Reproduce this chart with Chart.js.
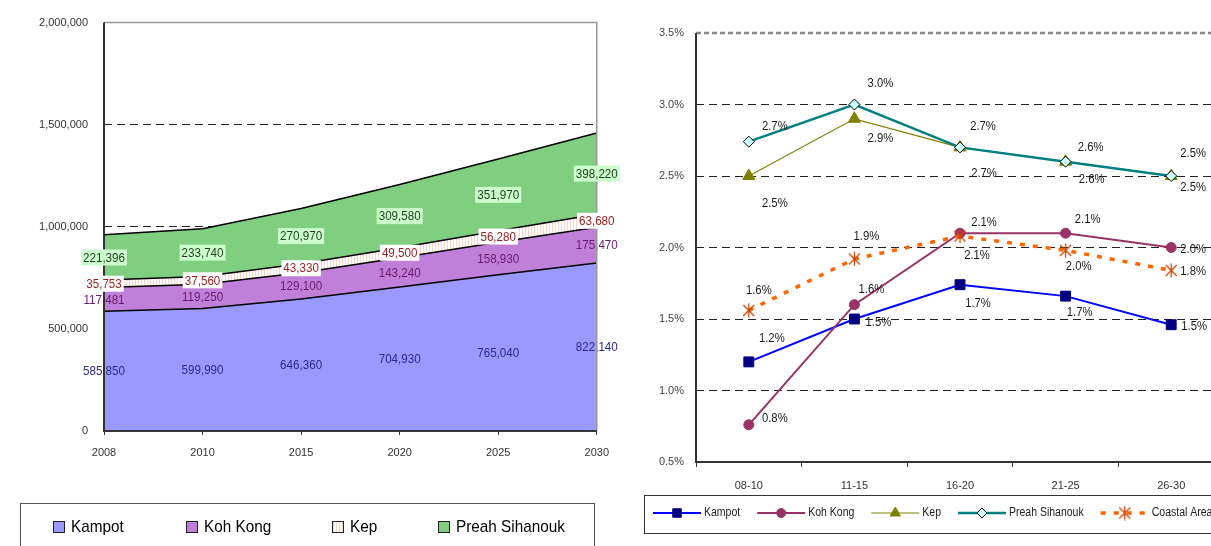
<!DOCTYPE html>
<html>
<head>
<meta charset="utf-8">
<script src="https://cdn.jsdelivr.net/npm/chart.js@4.4.1/dist/chart.umd.min.js"></script>
<style>
  html, body { margin: 0; padding: 0; background: #fff; overflow: hidden; width: 1211px; height: 546px; }
  #popChart { position: absolute; left: 0; top: 0; }
  #rateChart { position: absolute; left: 620px; top: 0; }
</style>
</head>
<body>
<canvas id="popChart" width="620" height="546"></canvas>
<canvas id="rateChart" width="620" height="546"></canvas>
<script>
// ---- Population by province (stacked) ----
const years = ['2008', '2010', '2015', '2020', '2025', '2030'];
const kampot = [585850, 599990, 646360, 704930, 765040, 822140];
const kohKong = [117481, 119250, 129100, 143240, 158930, 175470];
const kep = [35753, 37560, 43330, 49500, 56280, 63680];
const preahSihanouk = [221396, 233740, 270970, 309580, 351970, 398220];

// ---- Annual growth rate (%) by period ----
const periods = ['08-10', '11-15', '16-20', '21-25', '26-30'];
const rateKampot = [1.2, 1.5, 1.74, 1.66, 1.46];
const rateKohKong = [0.76, 1.6, 2.1, 2.1, 2.0];
const rateKep = [2.5, 2.9, 2.7, 2.6, 2.5];
const ratePreahSihanouk = [2.74, 3.0, 2.7, 2.6, 2.5];
const rateCoastal = [1.56, 1.92, 2.08, 1.98, 1.84];

const SANS = '"Liberation Sans", Arial, sans-serif';

// condensed text: regular face squeezed horizontally
function squeezedText(ctx, txt, x, y, sx) {
  ctx.save();
  ctx.translate(x, y);
  ctx.scale(sx, 1);
  ctx.fillText(txt, 0, 0);
  ctx.restore();
}

// light peach hatching used for the Kep band
function stripes(ctx) {
  const c = document.createElement('canvas');
  c.width = 3; c.height = 4;
  const g = c.getContext('2d');
  g.fillStyle = '#ffffff'; g.fillRect(0, 0, 3, 4);
  g.fillStyle = '#fbd6c4'; g.fillRect(0, 0, 1, 4);
  return ctx.createPattern(c, 'repeat');
}

// six-armed asterisk marker
function asterisk(color) {
  const s = 15, c = document.createElement('canvas');
  c.width = s; c.height = s;
  const g = c.getContext('2d');
  g.strokeStyle = color; g.lineWidth = 1.3;
  g.beginPath();
  g.moveTo(2, 2); g.lineTo(13, 13);
  g.moveTo(13, 2); g.lineTo(2, 13);
  g.moveTo(7.5, 0.5); g.lineTo(7.5, 14.5);
  g.stroke();
  return c;
}

/* ================= Left: stacked population areas ================= */
const popCanvas = document.getElementById('popChart');
const popCtx = popCanvas.getContext('2d');
const kepFill = stripes(popCtx);

const bandLabels = {
  id: 'bandLabels',
  afterDatasetsDraw(chart) {
    const ctx = chart.ctx, a = chart.chartArea;
    const metas = chart.data.datasets.map((d, i) => chart.getDatasetMeta(i));
    const SX = 0.86;
    ctx.save();
    ctx.textAlign = 'center';
    ctx.textBaseline = 'middle';
    ctx.font = '13.5px ' + SANS;
    const draw = (boxed) => {
      chart.data.datasets.forEach((ds, k) => {
        if (!!ds.labelBox !== boxed) return;
        metas[k].data.forEach((pt, i) => {
          const top = pt.y;
          const bot = k === 0 ? a.bottom : metas[k - 1].data[i].y;
          const y = (top + bot) / 2;
          const txt = ds.data[i].toLocaleString('en-US');
          const w = ctx.measureText(txt).width * SX;
          if (boxed) {
            ctx.fillStyle = ds.labelBox;
            ctx.fillRect(pt.x - w / 2 - 2, y - 8, w + 4, 16);
          }
          ctx.fillStyle = ds.labelColor;
          squeezedText(ctx, txt, pt.x, y + 0.5, SX);
        });
      });
    };
    draw(false);
    // plot frame
    ctx.lineWidth = 1.5;
    ctx.strokeStyle = '#999';
    ctx.beginPath();
    ctx.moveTo(a.left, a.top); ctx.lineTo(a.right, a.top); ctx.lineTo(a.right, a.bottom);
    ctx.stroke();
    ctx.lineWidth = 2;
    ctx.strokeStyle = '#333';
    ctx.beginPath();
    ctx.moveTo(a.left, a.top); ctx.lineTo(a.left, a.bottom); ctx.lineTo(a.right, a.bottom);
    ctx.stroke();
    draw(true);
    ctx.restore();
  },
  afterDraw(chart) {
    const ctx = chart.ctx;
    ctx.save();
    ctx.strokeStyle = '#555';
    ctx.lineWidth = 1;
    ctx.strokeRect(20.5, 503.5, 574, 60);
    const xs = [53, 186, 332, 438];
    ctx.font = '17px ' + SANS;
    ctx.textBaseline = 'middle';
    chart.data.datasets.forEach((ds, i) => {
      ctx.fillStyle = ds.backgroundColor;
      ctx.fillRect(xs[i] + 0.5, 521.5, 11, 11);
      ctx.strokeStyle = '#222';
      ctx.strokeRect(xs[i] + 0.5, 521.5, 11, 11);
      ctx.fillStyle = '#000';
      squeezedText(ctx, ds.label, xs[i] + 18, 527, 0.9);
    });
    ctx.restore();
  }
};

new Chart(popCtx, {
  type: 'line',
  data: {
    labels: years,
    datasets: [
      { label: 'Kampot', data: kampot, backgroundColor: '#9999ff', fill: 'origin', labelColor: '#2b2b8c' },
      { label: 'Koh Kong', data: kohKong, backgroundColor: '#c07fd8', fill: '-1', labelColor: '#6b1a6b' },
      { label: 'Kep', data: kep, backgroundColor: kepFill, fill: '-1', labelColor: '#9b1c1c', labelBox: '#ffffff' },
      { label: 'Preah Sihanouk', data: preahSihanouk, backgroundColor: '#80cf80', fill: '-1', labelColor: '#1e3d1e', labelBox: '#ccffcc' }
    ].map(d => Object.assign({ borderColor: '#000', borderWidth: 1.5, pointRadius: 0, tension: 0 }, d))
  },
  options: {
    responsive: false,
    animation: false,
    layout: { padding: { top: 22, right: 23, left: 0, bottom: 0 } },
    plugins: { legend: { display: false }, tooltip: { enabled: false } },
    scales: {
      x: {
        offset: false,
        grid: { drawOnChartArea: false, tickLength: 4, color: '#333' },
        border: { display: false },
        ticks: { font: { family: SANS, size: 11 }, color: '#333', padding: 11, maxRotation: 0 },
        afterFit(s) { s.height = 115; }
      },
      y: {
        stacked: true,
        min: 0, max: 2000000,
        grid: {
          drawTicks: false,
          color: c => (c.tick && (c.tick.value === 1000000 || c.tick.value === 1500000)) ? '#222' : 'rgba(0,0,0,0)'
        },
        border: { display: false, dash: [8, 5] },
        ticks: { stepSize: 500000, font: { family: SANS, size: 11 }, color: '#333', padding: 16,
                 callback: v => v.toLocaleString('en-US') },
        afterFit(s) { s.width = 104; }
      }
    }
  },
  plugins: [bandLabels]
});

/* ================= Right: growth rate lines ================= */
const rateCanvas = document.getElementById('rateChart');
const starMark = asterisk('#cc4400');

const rateDecor = {
  id: 'rateDecor',
  beforeDatasetsDraw(chart) {
    const ctx = chart.ctx, a = chart.chartArea;
    ctx.save();
    ctx.strokeStyle = '#888';
    ctx.lineWidth = 2.5;
    ctx.setLineDash([5, 3]);
    ctx.beginPath(); ctx.moveTo(a.left, a.top); ctx.lineTo(a.right, a.top); ctx.stroke();
    ctx.setLineDash([]);
    ctx.strokeStyle = '#333';
    ctx.lineWidth = 2;
    ctx.beginPath();
    ctx.moveTo(a.left, a.top); ctx.lineTo(a.left, a.bottom); ctx.lineTo(a.right, a.bottom);
    ctx.stroke();
    ctx.restore();
  },
  afterDatasetsDraw(chart) {
    const ctx = chart.ctx;
    ctx.save();
    ctx.font = '12px ' + SANS;
    ctx.fillStyle = '#1a1a1a';
    ctx.textAlign = 'center';
    ctx.textBaseline = 'middle';
    chart.data.datasets.forEach((ds, k) => {
      chart.getDatasetMeta(k).data.forEach((pt, i) => {
        const off = ds.labelOffsets[i];
        squeezedText(ctx, ds.data[i].toFixed(1) + '%', pt.x + off[0], pt.y + off[1], 0.94);
      });
    });
    ctx.restore();
  },
  afterDraw(chart) {
    const ctx = chart.ctx;
    const H = Chart.helpers;
    const SX = 0.84;
    ctx.save();
    ctx.strokeStyle = '#333';
    ctx.lineWidth = 1;
    ctx.strokeRect(24.5, 495.5, 700, 38);
    ctx.font = '12.5px ' + SANS;
    ctx.textBaseline = 'middle';
    let x = 33;
    const y = 513;
    chart.data.datasets.forEach((ds) => {
      ctx.save();
      ctx.strokeStyle = ds.borderColor;
      ctx.lineWidth = ds.borderWidth;
      ctx.setLineDash(ds.borderDash || []);
      ctx.beginPath(); ctx.moveTo(x, y); ctx.lineTo(x + 48, y); ctx.stroke();
      ctx.setLineDash([]);
      ctx.fillStyle = ds.pointBackgroundColor;
      ctx.strokeStyle = ds.pointBorderColor;
      ctx.lineWidth = ds.pointBorderWidth || 1;
      H.drawPoint(ctx, { pointStyle: ds.pointStyle, radius: ds.legendRadius, rotation: 0, borderWidth: ds.pointBorderWidth || 1 }, x + 24, y);
      ctx.restore();
      ctx.fillStyle = '#222';
      squeezedText(ctx, ds.label, x + 51, y, SX);
      x += 51 + ctx.measureText(ds.label).width * SX + 17;
    });
    ctx.restore();
  }
};

new Chart(rateCanvas.getContext('2d'), {
  type: 'line',
  data: {
    labels: periods,
    datasets: [
      { label: 'Kampot', data: rateKampot, borderColor: '#0000ff', borderWidth: 2,
        pointStyle: 'rect', pointRadius: 7, legendRadius: 6, pointBackgroundColor: '#000080', pointBorderColor: '#000080',
        labelOffsets: [[23, -23], [24, 4], [18, 19], [14, 17], [23, 2]] },
      { label: 'Koh Kong', data: rateKohKong, borderColor: '#993366', borderWidth: 2,
        pointStyle: 'circle', pointRadius: 5, legendRadius: 4.5, pointBackgroundColor: '#993366', pointBorderColor: '#993366',
        labelOffsets: [[26, -6], [17, -15], [24, -11], [22, -14], [22, 2]] },
      { label: 'Kep', data: rateKep, borderColor: '#808000', borderWidth: 1.2,
        pointStyle: 'triangle', pointRadius: 7, legendRadius: 6, pointBackgroundColor: '#808000', pointBorderColor: '#808000',
        labelOffsets: [[26, 28], [26, 20], [24, 26], [26, 18], [22, 12]] },
      { label: 'Preah Sihanouk', data: ratePreahSihanouk, borderColor: '#008080', borderWidth: 2.5,
        pointStyle: 'rectRot', pointRadius: 5.5, legendRadius: 5, pointBackgroundColor: '#ccffff', pointBorderColor: '#000', pointBorderWidth: 1,
        labelOffsets: [[26, -15], [26, -21], [23, -21], [25, -14], [22, -22]] },
      { label: 'Coastal Area', data: rateCoastal, borderColor: '#ff6600', borderWidth: 3.5, borderDash: [5, 8],
        pointStyle: starMark, pointRadius: 7, legendRadius: 7, pointBackgroundColor: '#cc4400', pointBorderColor: '#cc4400',
        labelOffsets: [[10, -20], [12, -22], [17, 20], [13, 16], [22, 1]] }
    ].map((d, i) => Object.assign({ fill: false, tension: 0, pointBorderWidth: 1, order: 5 - i }, d))
  },
  options: {
    responsive: false,
    animation: false,
    layout: { padding: { top: 33, right: 16, left: 0, bottom: 0 } },
    plugins: { legend: { display: false }, tooltip: { enabled: false } },
    scales: {
      x: {
        offset: true,
        grid: { offset: true, drawOnChartArea: false, tickLength: 5, color: '#333' },
        border: { display: false },
        ticks: { font: { family: SANS, size: 11 }, color: '#333', padding: 12, maxRotation: 0 },
        afterFit(s) { s.height = 84; }
      },
      y: {
        min: 0.5, max: 3.5,
        grid: {
          drawTicks: false,
          color: c => (c.tick && c.tick.value > 0.75 && c.tick.value < 3.25) ? '#222' : 'rgba(0,0,0,0)'
        },
        border: { display: false, dash: [8, 5] },
        ticks: { stepSize: 0.5, font: { family: SANS, size: 11 }, color: '#444', padding: 12,
                 callback: v => v.toFixed(1) + '%' },
        afterFit(s) { s.width = 76; }
      }
    }
  },
  plugins: [rateDecor]
});
</script>
</body>
</html>
